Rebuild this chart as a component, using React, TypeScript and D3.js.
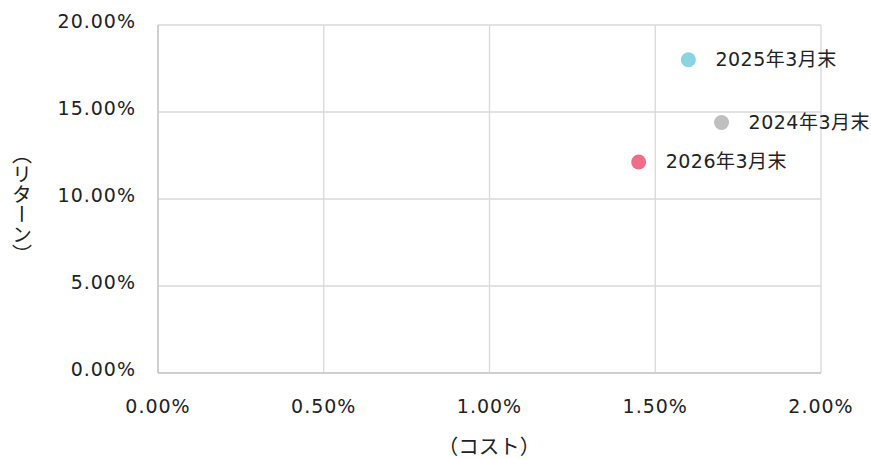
import React from "react";
import * as d3 from "d3";

const labels = ["2024年3月末", "2025年3月末", "2026年3月末"];
const costs = [1.7, 1.6, 1.45];
const returns = [14.4, 18.0, 12.13];
const colors = ["#bfbfbf", "#8ad4e2", "#ee6d89"];
const xTicks = [0, 0.5, 1.0, 1.5, 2.0];
const yTicks = [0, 5, 10, 15, 20];

const W = 871;
const H = 459;
const M = { left: 158, right: 821, top: 25, bottom: 373 };
const FONT = "'DejaVu Sans', 'Noto Sans CJK JP', sans-serif";
const CJK = "'Noto Sans CJK JP', sans-serif";

export default function App() {
  const x = d3.scaleLinear().domain([0, 2]).range([M.left, M.right]);
  const y = d3.scaleLinear().domain([0, 20]).range([M.bottom, M.top]);
  const fmt = (v: number) => v.toFixed(2) + "%";
  return (
    <svg width={W} height={H} style={{ position: "absolute", left: 0, top: 0 }}>
      <rect width={W} height={H} fill="#fff" />
      {xTicks.map((t) => (
        <line key={"gx" + t} x1={x(t)} x2={x(t)} y1={M.top} y2={M.bottom} stroke="#d9d9d9" strokeWidth={1.3} />
      ))}
      {yTicks.map((t) => (
        <line key={"gy" + t} x1={M.left} x2={M.right} y1={y(t)} y2={y(t)} stroke="#d9d9d9" strokeWidth={1.3} />
      ))}
      <line x1={M.left} x2={M.left} y1={M.top} y2={M.bottom} stroke="#c8c8c8" strokeWidth={1.5} />
      <line x1={M.left} x2={M.right} y1={M.bottom} y2={M.bottom} stroke="#c8c8c8" strokeWidth={1.5} />
      {yTicks.map((t) => (
        <text key={"ty" + t} x={136} y={y(t) - 3} textAnchor="end" dominantBaseline="middle" fontFamily={FONT} fontSize={19} letterSpacing={1} fill="#222">
          {fmt(t)}
        </text>
      ))}
      {xTicks.map((t) => (
        <text key={"tx" + t} x={x(t)} y={413} textAnchor="middle" fontFamily={FONT} fontSize={19} letterSpacing={1} fill="#222">
          {fmt(t)}
        </text>
      ))}
      {costs.map((c, i) => (
        <g key={"p" + i}>
          <circle cx={x(c)} cy={y(returns[i])} r={7.5} fill={colors[i]} />
          <text x={x(c) + 27} y={y(returns[i]) + 1} dominantBaseline="middle" fontFamily={FONT} fontSize={19} letterSpacing={0.5} fill="#222">
            {labels[i]}
          </text>
        </g>
      ))}
      <text x={489} y={454} textAnchor="middle" fontFamily={CJK} fontSize={20.5} fill="#222">
        （コスト）
      </text>
      <text x={22} y={204} textAnchor="middle" fontFamily={CJK} fontSize={20} fill="#222"
        style={{ writingMode: "vertical-rl" as any }}>
        （リターン）
      </text>
    </svg>
  );
}
